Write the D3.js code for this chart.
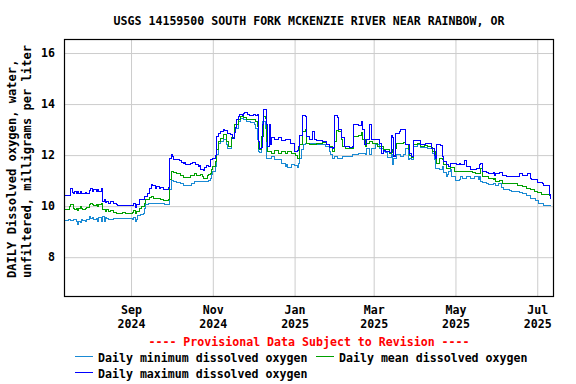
<!DOCTYPE html>
<html>
<head>
<meta charset="utf-8">
<script src="https://cdn.jsdelivr.net/npm/d3@7"></script>
<style>
  body { margin: 0; background: #fff; }
  svg { display: block; }
  text { font-family: "DejaVu Sans Mono", monospace; font-weight: bold; font-size: 11.6px; fill: #000; }
</style>
</head>
<body>
<svg id="chart" width="576" height="384"></svg>
<script>
const title = 'USGS 14159500 SOUTH FORK MCKENZIE RIVER NEAR RAINBOW, OR';
const yLabel = ['DAILY Dissolved oxygen, water,', 'unfiltered, milligrams per liter'];
const yTicks = [8, 10, 12, 14, 16];
const xTicks = ['2024-09-01', '2024-11-01', '2025-01-01', '2025-03-01', '2025-05-01', '2025-07-01'];
const provisional = '---- Provisional Data Subject to Revision ----';
const seriesNames = ['Daily minimum dissolved oxygen', 'Daily mean dissolved oxygen', 'Daily maximum dissolved oxygen'];
const seriesColors = ['#1a8ad4', '#00a000', '#0000ff'];

// daily maximum
const maxDates = ['2024-07-13','2024-07-16','2024-07-18','2024-07-19','2024-07-20','2024-07-21','2024-07-22','2024-07-23','2024-07-24','2024-07-25','2024-07-26','2024-07-27','2024-07-29','2024-07-30',
  '2024-08-01','2024-08-02','2024-08-03','2024-08-04','2024-08-06','2024-08-07','2024-08-08','2024-08-10','2024-08-11','2024-08-12','2024-08-13','2024-08-14','2024-08-15','2024-08-17','2024-08-19','2024-08-21','2024-08-22','2024-08-25','2024-08-27','2024-08-30',
  '2024-09-01','2024-09-03','2024-09-04','2024-09-05','2024-09-07','2024-09-10','2024-09-11','2024-09-13','2024-09-15','2024-09-16','2024-09-17','2024-09-19','2024-09-20','2024-09-22','2024-09-23','2024-09-25','2024-09-28','2024-09-29','2024-09-30',
  '2024-10-01','2024-10-02','2024-10-03','2024-10-05','2024-10-07','2024-10-09','2024-10-10','2024-10-11','2024-10-12','2024-10-15','2024-10-17','2024-10-19','2024-10-21','2024-10-22','2024-10-23','2024-10-25','2024-10-26','2024-10-27','2024-10-29','2024-10-30',
  '2024-11-01','2024-11-03','2024-11-04','2024-11-05','2024-11-07','2024-11-09','2024-11-10','2024-11-12','2024-11-14','2024-11-16','2024-11-17','2024-11-18','2024-11-19','2024-11-20','2024-11-21','2024-11-23','2024-11-24','2024-11-25','2024-11-27','2024-11-28',
  '2024-12-01','2024-12-03','2024-12-04','2024-12-05','2024-12-06','2024-12-07','2024-12-08','2024-12-09','2024-12-10','2024-12-11','2024-12-12','2024-12-13','2024-12-14','2024-12-15','2024-12-17','2024-12-20','2024-12-22','2024-12-25','2024-12-27','2024-12-29',
  '2025-01-01','2025-01-03','2025-01-04','2025-01-05','2025-01-07','2025-01-09','2025-01-10','2025-01-12','2025-01-14','2025-01-16','2025-01-17','2025-01-22','2025-01-25','2025-01-27','2025-01-29','2025-01-30','2025-01-31',
  '2025-02-02','2025-02-03','2025-02-05','2025-02-07','2025-02-11','2025-02-13','2025-02-14','2025-02-18','2025-02-20','2025-02-21','2025-02-22','2025-02-24','2025-02-26','2025-02-27','2025-02-28',
  '2025-03-03','2025-03-05','2025-03-07','2025-03-08','2025-03-10','2025-03-13','2025-03-14','2025-03-15','2025-03-16','2025-03-17','2025-03-20','2025-03-21','2025-03-23','2025-03-25','2025-03-27','2025-03-28','2025-03-29','2025-03-31',
  '2025-04-03','2025-04-05','2025-04-09','2025-04-11','2025-04-13','2025-04-15','2025-04-16','2025-04-17','2025-04-20','2025-04-21','2025-04-22','2025-04-24','2025-04-26','2025-04-27','2025-04-30',
  '2025-05-02','2025-05-04','2025-05-05','2025-05-08','2025-05-09','2025-05-12','2025-05-14','2025-05-17','2025-05-19','2025-05-20','2025-05-21','2025-05-24','2025-05-26','2025-05-29','2025-05-30','2025-05-31',
  '2025-06-03','2025-06-05','2025-06-08','2025-06-16','2025-06-18','2025-06-20','2025-06-23','2025-06-24','2025-06-26','2025-06-27',
  '2025-07-01','2025-07-05','2025-07-06','2025-07-09','2025-07-10','2025-07-11'];
const maxValues = [10.40,10.40,10.68,10.55,10.51,10.57,10.51,10.57,10.51,10.57,10.51,10.48,10.53,10.48,
  10.61,10.71,10.57,10.67,10.57,10.64,10.57,10.71,10.18,10.25,10.14,10.18,10.12,10.17,10.09,10.05,10.01,10.04,10.01,10.01,
  10.01,10.12,9.95,10.05,10.25,10.27,10.38,10.51,10.71,10.84,10.80,10.71,10.77,10.71,10.74,10.64,10.64,10.74,11.88,
  12.01,11.95,11.84,11.82,11.79,11.71,11.66,11.71,11.62,11.66,11.71,11.62,11.55,11.58,11.42,11.40,11.50,11.58,11.55,11.82,
  11.88,12.00,12.73,12.86,12.92,12.99,12.96,12.86,12.80,12.67,12.90,13.10,13.38,13.50,13.60,13.55,13.62,13.67,13.60,13.55,
  13.58,13.55,13.58,12.53,12.27,12.30,13.20,13.80,13.80,13.19,12.34,13.19,12.40,12.70,12.62,12.70,12.57,12.63,12.60,12.45,
  12.14,12.20,12.35,12.75,13.54,13.50,12.73,12.60,12.93,12.60,12.57,12.53,12.40,12.31,12.27,12.30,13.54,
  13.48,12.99,12.70,12.34,12.31,12.34,13.19,13.16,13.32,12.99,12.40,12.60,13.19,12.60,12.63,
  12.60,12.47,12.08,12.18,12.14,12.10,12.76,12.70,11.94,12.86,12.92,12.99,12.99,12.40,12.40,12.08,11.94,12.57,
  12.57,12.40,12.47,12.44,12.27,11.97,11.88,12.40,12.36,11.94,11.75,11.62,11.55,11.66,11.68,
  11.62,11.68,11.62,11.79,11.55,11.42,11.42,11.49,11.62,11.68,11.36,11.32,11.27,11.32,11.22,11.29,
  11.32,11.19,11.16,11.16,11.27,11.19,11.22,11.27,11.10,11.03,
  10.93,10.90,10.80,10.80,10.44,10.27];

// daily mean
const meanDates = ['2024-07-13','2024-07-16','2024-07-17','2024-07-18','2024-07-20','2024-07-21','2024-07-22','2024-07-23','2024-07-24','2024-07-25','2024-07-26','2024-07-27','2024-07-29','2024-07-30',
  '2024-08-01','2024-08-02','2024-08-03','2024-08-04','2024-08-06','2024-08-07','2024-08-08','2024-08-10','2024-08-11','2024-08-12','2024-08-13','2024-08-14','2024-08-15','2024-08-17','2024-08-19','2024-08-21','2024-08-23','2024-08-26','2024-08-28','2024-08-31',
  '2024-09-02','2024-09-03','2024-09-04','2024-09-05','2024-09-07','2024-09-09','2024-09-11','2024-09-12','2024-09-15','2024-09-16','2024-09-18','2024-09-20','2024-09-23','2024-09-25','2024-09-28','2024-09-29','2024-09-30',
  '2024-10-01','2024-10-03','2024-10-05','2024-10-08','2024-10-10','2024-10-13','2024-10-15','2024-10-18','2024-10-19','2024-10-20','2024-10-23','2024-10-24','2024-10-25','2024-10-28','2024-10-29','2024-10-30','2024-10-31',
  '2024-11-01','2024-11-03','2024-11-04','2024-11-05','2024-11-07','2024-11-09','2024-11-11','2024-11-13','2024-11-15','2024-11-17','2024-11-20','2024-11-22','2024-11-24','2024-11-26','2024-11-30',
  '2024-12-03','2024-12-04','2024-12-05','2024-12-06','2024-12-07','2024-12-09','2024-12-10','2024-12-11','2024-12-12','2024-12-15','2024-12-17','2024-12-20','2024-12-22','2024-12-25','2024-12-27','2024-12-30',
  '2025-01-02','2025-01-03','2025-01-05','2025-01-07','2025-01-09','2025-01-10','2025-01-12','2025-01-17','2025-01-22','2025-01-25','2025-01-27','2025-01-29','2025-01-31',
  '2025-02-01','2025-02-03','2025-02-05','2025-02-06','2025-02-08','2025-02-12','2025-02-14','2025-02-18','2025-02-20','2025-02-21','2025-02-23','2025-02-24','2025-02-26','2025-02-28',
  '2025-03-04','2025-03-08','2025-03-13','2025-03-14','2025-03-15','2025-03-16','2025-03-17','2025-03-18','2025-03-23','2025-03-25','2025-03-27','2025-03-28','2025-03-29','2025-03-31',
  '2025-04-03','2025-04-05','2025-04-08','2025-04-10','2025-04-13','2025-04-14','2025-04-16','2025-04-17','2025-04-19','2025-04-21','2025-04-22','2025-04-24','2025-04-27','2025-04-30',
  '2025-05-09','2025-05-14','2025-05-16','2025-05-19','2025-05-20','2025-05-21','2025-05-26','2025-05-29','2025-05-30','2025-05-31',
  '2025-06-03','2025-06-05','2025-06-15','2025-06-16','2025-06-20','2025-06-23','2025-06-26','2025-06-29',
  '2025-07-01','2025-07-04','2025-07-10','2025-07-11'];
const meanValues = [9.88,9.88,9.98,10.05,9.92,9.85,9.92,9.83,9.92,9.98,9.92,9.85,9.92,9.94,
  10.05,10.12,10.05,10.01,10.05,9.98,10.05,10.12,9.85,9.88,9.79,9.85,9.79,9.83,9.75,9.73,9.73,9.75,9.73,9.73,
  9.75,9.83,9.70,9.79,9.92,9.98,10.10,10.25,10.35,10.38,10.31,10.31,10.25,10.22,10.22,10.27,11.03,
  11.36,11.32,11.27,11.19,11.14,11.14,11.19,11.27,11.29,11.19,11.23,11.16,11.10,11.20,11.23,11.29,11.42,
  11.55,11.75,12.21,12.53,12.66,12.80,12.55,12.34,12.70,13.19,13.41,13.51,13.47,13.38,13.38,
  13.30,13.12,12.27,12.22,12.73,13.51,13.45,12.53,12.14,12.08,12.17,12.08,12.14,12.05,12.14,12.05,
  11.97,11.88,12.40,12.92,12.99,12.47,12.40,12.47,12.49,12.40,12.34,12.14,12.53,
  12.96,12.92,12.60,12.34,12.27,12.27,12.73,12.76,12.88,12.60,12.34,12.47,12.53,12.47,
  12.34,12.21,12.08,12.21,12.10,11.97,12.27,12.47,12.49,12.40,12.23,11.97,11.91,12.40,
  12.44,12.34,12.36,12.34,12.31,12.14,11.88,11.69,11.88,11.84,11.62,11.49,11.53,11.36,
  11.36,11.32,11.27,11.29,11.49,11.16,11.10,11.03,11.10,10.98,
  11.00,10.90,10.88,10.80,10.77,10.71,10.64,10.58,
  10.54,10.44,10.40,10.31];

// daily minimum
const minDates = ['2024-07-13','2024-07-15','2024-07-16','2024-07-17','2024-07-18','2024-07-20','2024-07-21','2024-07-22','2024-07-23','2024-07-24','2024-07-25','2024-07-26','2024-07-27','2024-07-29','2024-07-30',
  '2024-08-01','2024-08-02','2024-08-03','2024-08-04','2024-08-06','2024-08-07','2024-08-08','2024-08-10','2024-08-11','2024-08-12','2024-08-13','2024-08-14','2024-08-15','2024-08-17','2024-08-19','2024-08-23','2024-08-30',
  '2024-09-01','2024-09-02','2024-09-03','2024-09-04','2024-09-05','2024-09-06','2024-09-08','2024-09-10','2024-09-11','2024-09-12','2024-09-14','2024-09-16','2024-09-19','2024-09-23','2024-09-26','2024-09-29','2024-09-30',
  '2024-10-01','2024-10-03','2024-10-05','2024-10-08','2024-10-10','2024-10-15','2024-10-16','2024-10-18','2024-10-25','2024-10-29','2024-10-30','2024-10-31',
  '2024-11-01','2024-11-03','2024-11-04','2024-11-05','2024-11-07','2024-11-09','2024-11-11','2024-11-12','2024-11-15','2024-11-17','2024-11-20','2024-11-22','2024-11-24','2024-11-26','2024-11-29',
  '2024-12-02','2024-12-03','2024-12-04','2024-12-05','2024-12-06','2024-12-07','2024-12-08','2024-12-10','2024-12-11','2024-12-15','2024-12-17','2024-12-20','2024-12-22','2024-12-25','2024-12-26','2024-12-27','2024-12-30',
  '2025-01-01','2025-01-03','2025-01-04','2025-01-05','2025-01-06','2025-01-08','2025-01-09','2025-01-17','2025-01-22','2025-01-24','2025-01-27','2025-01-28','2025-01-29','2025-01-31',
  '2025-02-02','2025-02-06','2025-02-10','2025-02-13','2025-02-18','2025-02-23','2025-02-24','2025-02-26','2025-02-27',
  '2025-03-02','2025-03-05','2025-03-08','2025-03-10','2025-03-11','2025-03-14','2025-03-15','2025-03-16','2025-03-18','2025-03-21','2025-03-23','2025-03-25','2025-03-27','2025-03-28','2025-03-29','2025-03-31',
  '2025-04-03','2025-04-05','2025-04-10','2025-04-13','2025-04-14','2025-04-15','2025-04-16','2025-04-19','2025-04-21','2025-04-22','2025-04-24','2025-04-25','2025-04-26','2025-04-27','2025-04-28',
  '2025-05-01','2025-05-04','2025-05-05','2025-05-06','2025-05-09','2025-05-12','2025-05-15','2025-05-18','2025-05-19','2025-05-20','2025-05-21','2025-05-24','2025-05-26','2025-05-29','2025-05-31',
  '2025-06-02','2025-06-04','2025-06-06','2025-06-10','2025-06-12','2025-06-18','2025-06-20','2025-06-23','2025-06-26','2025-06-30',
  '2025-07-02','2025-07-06','2025-07-11'];
const minValues = [9.44,9.44,9.46,9.49,9.44,9.49,9.46,9.40,9.27,9.40,9.36,9.46,9.44,9.40,9.49,
  9.59,9.53,9.57,9.46,9.53,9.40,9.57,9.40,9.59,9.40,9.57,9.53,9.46,9.49,9.51,9.51,9.53,
  9.53,9.46,9.57,9.40,9.49,9.62,9.66,9.73,9.92,10.05,10.12,10.12,10.09,10.09,10.05,10.05,10.64,
  11.00,10.96,10.93,10.88,10.80,10.80,10.88,10.96,10.96,10.99,11.10,11.23,
  11.36,11.55,12.01,12.47,12.53,12.63,12.40,12.27,12.66,13.06,13.32,13.45,13.41,13.32,13.27,
  13.19,13.06,12.60,12.14,12.10,12.60,13.32,13.06,11.88,11.94,11.82,11.82,11.68,11.55,11.62,11.53,11.64,
  11.58,11.53,11.68,11.88,12.21,12.40,12.44,12.40,12.40,12.34,12.14,12.01,11.88,11.94,
  11.88,11.94,11.94,12.01,12.08,12.03,12.27,12.01,12.27,
  12.40,12.27,12.14,12.10,11.90,12.01,11.62,11.88,12.01,11.94,12.01,12.27,11.84,11.88,11.82,12.34,
  12.40,12.31,12.27,12.27,12.08,11.82,11.49,11.42,11.55,11.32,11.16,11.23,11.36,11.42,11.16,
  11.00,11.03,11.16,11.10,11.16,11.10,11.16,11.03,11.16,10.96,10.93,10.87,10.84,10.90,10.80,
  10.88,10.75,10.67,10.62,10.57,10.53,10.49,10.40,10.31,10.22,
  10.12,10.01,10.01];

const parse = d3.timeParse('%Y-%m-%d');
const toPoints = (dates, values) => dates.map((d, i) => ({ date: parse(d), value: values[i] }));
const series = [
  toPoints(minDates, minValues),
  toPoints(meanDates, meanValues),
  toPoints(maxDates, maxValues),
];

const plotLeft = 64, plotRight = 554, plotTop = 39, plotBottom = 297;
const svg = d3.select('#chart');

const x = d3.scaleTime()
  .domain([new Date(2024, 6, 13), new Date(2025, 6, 13, 12)])
  .range([plotLeft, plotRight]);
const y = d3.scaleLinear().domain([6.44, 16.55]).range([plotBottom, plotTop]);

// title
svg.append('text')
  .attr('x', (plotLeft + plotRight) / 2).attr('y', 25)
  .attr('text-anchor', 'middle')
  .text(title);

// grid + y labels
const yAxis = svg.append('g')
  .attr('transform', `translate(${plotLeft},0)`)
  .call(d3.axisLeft(y).tickValues(yTicks).tickSize(0).tickPadding(9).tickFormat(d3.format('d')));
yAxis.select('.domain').remove();
yAxis.selectAll('.tick line').attr('stroke', '#cccccc').attr('x1', 0).attr('x2', plotRight - plotLeft);
yAxis.selectAll('text')
  .attr('font-family', null).attr('font-size', null)
  .style('font-family', '"DejaVu Sans Mono", monospace').style('font-size', '11.6px').style('font-weight', 'bold');

const xDates = xTicks.map(parse);
const xAxis = svg.append('g')
  .attr('transform', `translate(0,${plotBottom})`)
  .call(d3.axisBottom(x).tickValues(xDates).tickSize(0).tickFormat(''));
xAxis.select('.domain').remove();
xAxis.selectAll('.tick line').attr('stroke', '#cccccc').attr('y1', 0).attr('y2', -(plotBottom - plotTop));
xAxis.selectAll('.tick text').remove();
xAxis.selectAll('.tick').append('text')
  .attr('text-anchor', 'middle')
  .each(function (d) {
    const t = d3.select(this);
    t.append('tspan').attr('x', 0).attr('y', 17).text(d3.timeFormat('%b')(d));
    t.append('tspan').attr('x', 0).attr('y', 30.5).text(d3.timeFormat('%Y')(d));
  });

// lines
svg.append('clipPath').attr('id', 'clip')
  .append('rect').attr('x', plotLeft).attr('y', plotTop).attr('width', plotRight - plotLeft).attr('height', plotBottom - plotTop);

const line = d3.line()
  .x(d => x(d.date))
  .y(d => y(d.value))
  .curve(d3.curveStepAfter);

svg.append('g').attr('clip-path', 'url(#clip)')
  .selectAll('path')
  .data(series)
  .join('path')
  .attr('d', line)
  .attr('fill', 'none')
  .attr('stroke', (d, i) => seriesColors[i])
  .attr('stroke-width', 1)
  .attr('shape-rendering', 'crispEdges');

// frame
svg.append('rect')
  .attr('x', plotLeft + 0.5).attr('y', plotTop + 0.5)
  .attr('width', plotRight - plotLeft - 1).attr('height', plotBottom - plotTop - 1)
  .attr('fill', 'none').attr('stroke', '#000').attr('stroke-width', 1.2);

// y label
const yl = svg.append('text')
  .attr('transform', 'translate(0,278) rotate(-90)')
  .attr('text-anchor', 'start')
  .style('font-size', '12.1px');
yl.append('tspan').attr('x', 0).attr('y', 16).text(yLabel[0]);
yl.append('tspan').attr('x', 0).attr('y', 31).text(yLabel[1]);

// provisional note
svg.append('text')
  .attr('x', (plotLeft + plotRight) / 2).attr('y', 346)
  .attr('text-anchor', 'middle')
  .style('fill', '#ff0000')
  .text(provisional);

// legend
const legendPos = [[75, 357], [316, 357], [75, 373]];
seriesNames.forEach((name, i) => {
  const [lx, ly] = legendPos[i];
  svg.append('line')
    .attr('x1', lx).attr('x2', lx + 18)
    .attr('y1', ly - 0.5).attr('y2', ly - 0.5)
    .attr('stroke', seriesColors[i]).attr('stroke-width', 1);
  svg.append('text')
    .attr('x', lx + 23).attr('y', ly + 4.5)
    .text(name);
});
</script>
</body>
</html>
